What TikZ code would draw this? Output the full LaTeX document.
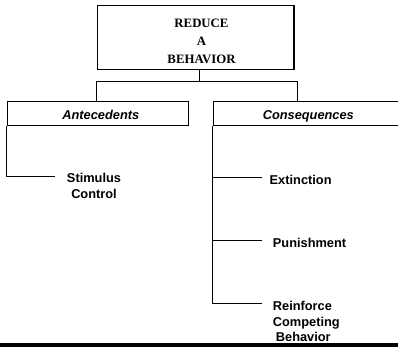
\documentclass[tikz,border=0pt]{standalone}
\usepackage{fontspec}
\setmainfont{Liberation Serif}
\setsansfont{Liberation Sans}
\begin{document}
\begin{tikzpicture}[x=1pt,y=-1pt,
  box/.style={draw,line width=1.2pt,rectangle,inner sep=0pt},
  head/.style={box,minimum height=24pt,text height=13pt,text depth=0pt,
    font=\sffamily\bfseries\itshape\fontsize{12.8}{15}\selectfont},
  item/.style={font=\sffamily\bfseries\fontsize{12.8}{15.5}\selectfont,inner sep=0pt},
  link/.style={line width=0.9pt}]
\useasboundingbox (0,0) rectangle (398,347);

% goal box and its title
\node[box,minimum width=196.7pt,minimum height=63.5pt] (goal) at (195.7,37.5) {};
\node[font=\rmfamily\bfseries\fontsize{12.8}{18.3}\selectfont,align=center,inner sep=0pt]
  (goaltext) at (201.5,41.5) {REDUCE\\A\\BEHAVIOR};

% the two branch headers
\node[head,minimum width=181pt] (ant) at (97.8,113.5) {\hspace*{6pt}Antecedents};
\node[head,minimum width=190pt] (cons) at (308.3,113.5) {Consequences};

% tree connectors from the goal down to the headers
\coordinate (j)  at (199.3,81.5);
\coordinate (jl) at (96.7,81.5);
\coordinate (jr) at (297.3,81.5);
\draw[link] (goal.south -| j) -- (j);
\draw[link] (jl |- ant.north) -- (jl) -- (jr) -- (jr |- cons.north);

% antecedent strategies
\coordinate (s1) at (55,176.5);
\node[item,align=center] (stim) at (94,186) {Stimulus\\Control};
\draw[link] (ant.south west) |- (s1);

% consequence strategies
\coordinate (e1) at (261.7,177.5);
\coordinate (p1) at (261.7,240);
\coordinate (r1) at (261.7,303.5);
\node[item,anchor=west] (ext) at (269.5,179.5) {Extinction};
\node[item,anchor=west] (pun) at (272.7,243) {Punishment};
\node[item,align=left,anchor=north west] (rcb) at (272.7,301.5) {Reinforce\\Competing\\\hspace*{3pt}Behavior};
\draw[link] (cons.south west) |- (r1);
\draw[link] (cons.south west |- e1) -- (e1);
\draw[link] (cons.south west |- p1) -- (p1);

% heavy rule along the bottom
\draw[line width=3.6pt] (0,344.8) -- (398,344.8);
\end{tikzpicture}
\end{document}
